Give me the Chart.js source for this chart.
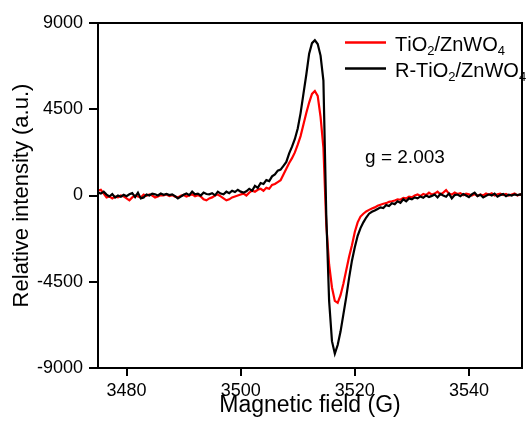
<!DOCTYPE html>
<html>
<head>
<meta charset="utf-8">
<script src="https://cdn.jsdelivr.net/npm/chart.js@4.4.0/dist/chart.umd.min.js"></script>
<style>
  html, body { margin: 0; padding: 0; background: #fff; }
</style>
</head>
<body>
<canvas id="eprChart" width="527" height="423"></canvas>
<script>
// Magnetic field (G), 0.5 G steps
const fieldValues = [
  3475, 3475.5, 3476, 3476.5, 3477, 3477.5, 3478, 3478.5, 3479, 3479.5,
  3480, 3480.5, 3481, 3481.5, 3482, 3482.5, 3483, 3483.5, 3484, 3484.5,
  3485, 3485.5, 3486, 3486.5, 3487, 3487.5, 3488, 3488.5, 3489, 3489.5,
  3490, 3490.5, 3491, 3491.5, 3492, 3492.5, 3493, 3493.5, 3494, 3494.5,
  3495, 3495.5, 3496, 3496.5, 3497, 3497.5, 3498, 3498.5, 3499, 3499.5,
  3500, 3500.5, 3501, 3501.5, 3502, 3502.5, 3503, 3503.5, 3504, 3504.5,
  3505, 3505.5, 3506, 3506.5, 3507, 3507.5, 3508, 3508.5, 3509, 3509.5,
  3510, 3510.5, 3511, 3511.5, 3512, 3512.5, 3513, 3513.5, 3514, 3514.5,
  3515, 3515.5, 3516, 3516.5, 3517, 3517.5, 3518, 3518.5, 3519, 3519.5,
  3520, 3520.5, 3521, 3521.5, 3522, 3522.5, 3523, 3523.5, 3524, 3524.5,
  3525, 3525.5, 3526, 3526.5, 3527, 3527.5, 3528, 3528.5, 3529, 3529.5,
  3530, 3530.5, 3531, 3531.5, 3532, 3532.5, 3533, 3533.5, 3534, 3534.5,
  3535, 3535.5, 3536, 3536.5, 3537, 3537.5, 3538, 3538.5, 3539, 3539.5,
  3540, 3540.5, 3541, 3541.5, 3542, 3542.5, 3543, 3543.5, 3544, 3544.5,
  3545, 3545.5, 3546, 3546.5, 3547, 3547.5, 3548, 3548.5, 3549, 3549.5,
  3550
];

// TiO2/ZnWO4 (red)
const tio2Values = [
  250, 300, 100, -100, -50, -150, -60, -100, 0, -50,
  -150, -250, -100, 0, -50, -100, 50, -20, 60, 0,
  -100, -50, 20, 0, 50, -30, 20, -60, -100, -20,
  30, -50, 0, 60, -40, 20, -50, -200, -250, -150,
  -100, 0, 50, -50, -150, -250, -200, -100, -50, 0,
  50, 100, 0, 150, 250, 200, 300, 350, 250, 400,
  350, 550, 600, 700, 800, 1100, 1400, 1700, 1950, 2250,
  2650, 3100, 3700, 4300, 4850, 5300, 5450, 5200, 4100, 2500,
  -1500, -3600, -4800, -5500, -5600, -5200, -4600, -3900, -3200, -2600,
  -1900, -1400, -1100, -950, -830, -750, -680, -620, -540, -480,
  -430, -400, -330, -300, -260, -200, -220, -120, -150, -60,
  -100, 0, 50, -30, 80, 20, 150, 50, 100, 200,
  60, 150, 280, 100, 50, 150, 80, 120, 20, 100,
  60, 0, 80, -20, 60, 0, 100, 40, 120, 0,
  60, 100, 20, 80, 0, 50, 100, 0, 60, 30,
  80
];

// R-TiO2/ZnWO4 (black)
const rTio2Values = [
  150, 100, 200, 50, -50, 80, -100, 0, -60, 40,
  -40, 60, 120, -80, 150, -150, -100, 50, 0, 100,
  60, 0, 100, 40, 80, 20, 60, -30, -150, -60,
  40, 100, 20, 200, 60, 100, 0, 150, 80, 60,
  120, 10, 200, 100, 60, 200, 120, 250, 180, 300,
  200, 150, 220, 350, 250, 500, 400, 650, 600, 800,
  750, 1000, 1100, 1300, 1350, 1550, 1750, 2200, 2550, 2950,
  3500, 4300, 5300, 6300, 7400, 7950, 8100, 7900, 7300, 6000,
  -1000, -5500, -7600, -8250, -7800, -7100, -6200, -5300, -4300, -3400,
  -2700, -2100, -1700, -1400, -1150, -950, -850, -780, -700, -620,
  -650, -500, -550, -400, -450, -300, -380, -200, -300, -150,
  -200, -100, -150, -50, -120, 0, -80, -20, 50, -100,
  80, 0, -60, 100, -150, 20, 50, -40, 80, 0,
  -80, 60, 150, -30, 40, -100, -20, 60, 0, 100,
  -60, 20, 80, -40, 40, 0, 60, 20, 60, 40,
  50
];

const seriesLabels = ["TiO2/ZnWO4", "R-TiO2/ZnWO4"];
const seriesColors = ["#ff0000", "#000000"];
const xTickValues = [3480, 3500, 3520, 3540];
const yTickValues = [-9000, -4500, 0, 4500, 9000];
const gText = "g = 2.003";
const gAnchor = { x: 3521.8, y: 1720 };

const fontFamily = "'Liberation Sans', Arial, sans-serif";

function toPoints(values) {
  return values.map((v, i) => ({ x: fieldValues[i], y: v }));
}

// draw text where every digit is a subscript
function drawSubText(ctx, text, x, y, size) {
  let cx = x;
  for (const ch of text) {
    const isSub = /[0-9]/.test(ch);
    ctx.font = (isSub ? size * 0.65 : size) + "px " + fontFamily;
    ctx.fillText(ch, cx, isSub ? y + 4 : y);
    cx += ctx.measureText(ch).width;
  }
}

const legendPlugin = {
  id: "subLegend",
  afterDraw(chart) {
    const ctx = chart.ctx;
    const area = chart.chartArea;
    ctx.save();
    ctx.textBaseline = "alphabetic";
    ctx.textAlign = "left";
    seriesLabels.forEach((label, i) => {
      const y = area.top + 19.5 + i * 26;
      ctx.strokeStyle = seriesColors[i];
      ctx.lineWidth = 2.5;
      ctx.beginPath();
      ctx.moveTo(area.right - 177, y);
      ctx.lineTo(area.right - 136, y);
      ctx.stroke();
      ctx.fillStyle = "#000";
      drawSubText(ctx, label, area.right - 127, y + 8.5, 20);
    });
    // g value annotation
    const gx = chart.scales.x.getPixelForValue(gAnchor.x);
    const gy = chart.scales.y.getPixelForValue(gAnchor.y);
    ctx.font = "19px " + fontFamily;
    ctx.fillText(gText, gx, gy);
    ctx.restore();
  }
};

const framePlugin = {
  id: "frame",
  afterDraw(chart) {
    const ctx = chart.ctx;
    const a = chart.chartArea;
    ctx.save();
    ctx.strokeStyle = "#000";
    ctx.lineWidth = 2;
    ctx.strokeRect(a.left, a.top, a.right - a.left, a.bottom - a.top);
    ctx.restore();
  }
};

const ctx = document.getElementById("eprChart").getContext("2d");

new Chart(ctx, {
  type: "line",
  data: {
    datasets: [
      {
        label: seriesLabels[0],
        data: toPoints(tio2Values),
        borderColor: seriesColors[0],
        borderWidth: 2.2,
        pointRadius: 0,
        tension: 0,
        fill: false,
        order: 1,
      },
      {
        label: seriesLabels[1],
        data: toPoints(rTio2Values),
        borderColor: seriesColors[1],
        borderWidth: 2.2,
        pointRadius: 0,
        tension: 0,
        fill: false,
        order: 0,
      },
    ],
  },
  options: {
    responsive: false,
    animation: false,
    layout: {
      padding: { left: 0, right: 5, top: 23, bottom: 0 },
    },
    scales: {
      x: {
        type: "linear",
        min: 3475,
        max: 3549.3,
        afterBuildTicks: (scale) => {
          scale.ticks = xTickValues.map((v) => ({ value: v }));
        },
        afterFit: (scale) => {
          scale.height = 55;
        },
        grid: {
          drawOnChartArea: false,
          drawTicks: true,
          tickLength: 8,
          color: "#000",
          lineWidth: 2,
        },
        border: { display: true, color: "#000", width: 2 },
        ticks: {
          color: "#000",
          padding: 4,
          maxRotation: 0,
          callback: (value) => String(value),
          font: { family: fontFamily, size: 18 },
        },
        title: {
          display: true,
          text: "Magnetic field (G)",
          color: "#000",
          padding: { top: 0, bottom: 4 },
          font: { family: fontFamily, size: 23 },
        },
      },
      y: {
        min: -9000,
        max: 9000,
        afterBuildTicks: (scale) => {
          scale.ticks = yTickValues.map((v) => ({ value: v }));
        },
        afterFit: (scale) => {
          scale.width = 98;
        },
        grid: {
          drawOnChartArea: false,
          drawTicks: true,
          tickLength: 9,
          color: "#000",
          lineWidth: 2,
        },
        border: { display: true, color: "#000", width: 2 },
        ticks: {
          color: "#000",
          padding: 6,
          callback: (value) => String(value),
          font: { family: fontFamily, size: 18 },
        },
        title: {
          display: true,
          text: "Relative intensity (a.u.)",
          color: "#000",
          padding: { top: 9, bottom: 0 },
          font: { family: fontFamily, size: 22 },
        },
      },
    },
    plugins: {
      legend: { display: false },
      tooltip: { enabled: false },
    },
  },
  plugins: [legendPlugin, framePlugin],
});
</script>
</body>
</html>
